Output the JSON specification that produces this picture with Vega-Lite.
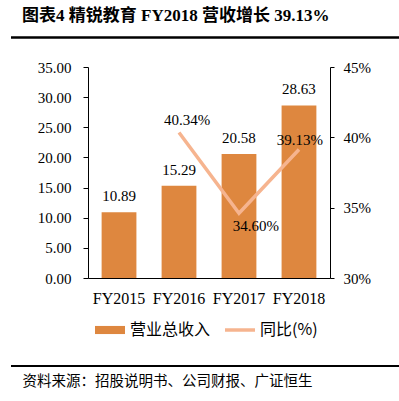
{
  "$schema": "https://vega.github.io/schema/vega-lite/v6.json",
  "width": 242,
  "height": 211,
  "autosize": {"type": "none"},
  "padding": {"left": 88, "top": 67, "right": 69, "bottom": 123},
  "background": "white",
  "title": {
    "text": "图表4 精锐教育 FY2018 营收增长 39.13%",
    "anchor": "start",
    "frame": "group",
    "dx": -66,
    "offset": 11,
    "font": "Liberation Serif, Noto Sans CJK SC",
    "fontSize": 17,
    "fontWeight": "bold",
    "color": "#000"
  },
  "config": {
    "view": {"stroke": null},
    "axis": {
      "grid": false,
      "labelFont": "Liberation Serif",
      "labelFontSize": 15,
      "labelColor": "#000",
      "domainColor": "#000",
      "tickColor": "#000",
      "labelOverlap": false
    }
  },
  "data": {
    "values": [
      {"year": "FY2015", "revenue": 10.89, "growth": null},
      {"year": "FY2016", "revenue": 15.29, "growth": 0.4034},
      {"year": "FY2017", "revenue": 20.58, "growth": 0.346},
      {"year": "FY2018", "revenue": 28.63, "growth": 0.3913}
    ]
  },
  "layer": [
    {
      "mark": {"type": "bar"},
      "encoding": {
        "x": {
          "field": "year",
          "type": "nominal",
          "scale": {"paddingInner": 0.42, "paddingOuter": 0.227},
          "axis": {
            "labelAngle": 0,
            "ticks": false,
            "labelPadding": 12,
            "labelFontSize": 16,
            "title": "资料来源：招股说明书、公司财报、广证恒生",
            "titleX": -66,
            "titleY": 103,
            "titleAlign": "left",
            "titleAnchor": "start",
            "titleBaseline": "middle",
            "titleFont": "Noto Sans CJK SC",
            "titleFontSize": 14.5,
            "titleFontWeight": "normal",
            "titleColor": "#000"
          }
        },
        "y": {
          "field": "revenue",
          "type": "quantitative",
          "scale": {"domain": [0, 35], "nice": false},
          "axis": {
            "values": [0, 5, 10, 15, 20, 25, 30, 35],
            "format": ".2f",
            "title": null,
            "tickSize": 5,
            "labelPadding": 12
          }
        },
        "color": {
          "datum": "营业总收入",
          "type": "nominal",
          "scale": {"domain": ["营业总收入", "同比(%)"], "range": ["#DE873F", "#F6B48F"]},
          "legend": {
            "orient": "none",
            "legendX": 14,
            "legendY": 255,
            "direction": "horizontal",
            "title": null,
            "labelFont": "Noto Sans CJK SC",
            "labelFontSize": 16,
            "labelColor": "#000",
            "symbolSize": 900,
            "columnPadding": 7,
            "labelOffset": 12,
            "encode": {
              "symbols": {
                "update": {
                  "shape": {"signal": "datum.value === '营业总收入' ? 'M-1,-0.27H1V0.27H-1Z' : 'M-1,0H1'"},
                  "fill": {"signal": "datum.value === '营业总收入' ? '#DE873F' : 'transparent'"},
                  "stroke": {"signal": "datum.value === '营业总收入' ? '#DE873F' : '#F6B48F'"},
                  "strokeWidth": {"signal": "datum.value === '营业总收入' ? 0 : 3.5"},
                  "opacity": {"value": 1}
                }
              }
            }
          }
        }
      }
    },
    {
      "mark": {"type": "text", "baseline": "middle", "dy": -16, "font": "Liberation Serif", "fontSize": 15, "color": "#000"},
      "encoding": {
        "x": {"field": "year", "type": "nominal"},
        "y": {"field": "revenue", "type": "quantitative", "scale": {"domain": [0, 35], "nice": false}, "axis": null},
        "text": {"field": "revenue", "type": "quantitative", "format": ".2f"}
      }
    },
    {
      "mark": {"type": "line", "strokeWidth": 3.5},
      "encoding": {
        "x": {"field": "year", "type": "nominal"},
        "y": {
          "field": "growth",
          "type": "quantitative",
          "scale": {"domain": [0.3, 0.45], "nice": false},
          "axis": {
            "orient": "right",
            "values": [0.3, 0.35, 0.4, 0.45],
            "format": ".0%",
            "title": null,
            "tickSize": 4,
            "labelPadding": 9
          }
        },
        "color": {"datum": "同比(%)", "type": "nominal"}
      }
    },
    {
      "transform": [{"filter": "datum.year === 'FY2016'"}],
      "mark": {"type": "text", "baseline": "middle", "dx": 8, "dy": -13, "font": "Liberation Serif", "fontSize": 15, "color": "#000"},
      "encoding": {
        "x": {"field": "year", "type": "nominal"},
        "y": {"field": "growth", "type": "quantitative", "scale": {"domain": [0.3, 0.45], "nice": false}, "axis": null},
        "text": {"field": "growth", "type": "quantitative", "format": ".2%"}
      }
    },
    {
      "transform": [{"filter": "datum.year === 'FY2017'"}],
      "mark": {"type": "text", "baseline": "middle", "dx": 17, "dy": 13, "font": "Liberation Serif", "fontSize": 15, "color": "#000"},
      "encoding": {
        "x": {"field": "year", "type": "nominal"},
        "y": {"field": "growth", "type": "quantitative", "scale": {"domain": [0.3, 0.45], "nice": false}, "axis": null},
        "text": {"field": "growth", "type": "quantitative", "format": ".2%"}
      }
    },
    {
      "transform": [{"filter": "datum.year === 'FY2018'"}],
      "mark": {"type": "text", "baseline": "middle", "dx": 1, "dy": -10, "font": "Liberation Serif", "fontSize": 15, "color": "#000"},
      "encoding": {
        "x": {"field": "year", "type": "nominal"},
        "y": {"field": "growth", "type": "quantitative", "scale": {"domain": [0.3, 0.45], "nice": false}, "axis": null},
        "text": {"field": "growth", "type": "quantitative", "format": ".2%"}
      }
    },
    {
      "data": {"values": [{"line": "top"}]},
      "mark": {"type": "rule", "strokeWidth": 2.5, "color": "#000"},
      "encoding": {"x": {"value": -77}, "x2": {"value": 311}, "y": {"value": -29.5}}
    },
    {
      "data": {"values": [{"line": "bottom"}]},
      "mark": {"type": "rule", "strokeWidth": 2, "color": "#000"},
      "encoding": {"x": {"value": -77}, "x2": {"value": 311}, "y": {"value": 299}}
    }
  ],
  "resolve": {"scale": {"y": "independent"}}
}
